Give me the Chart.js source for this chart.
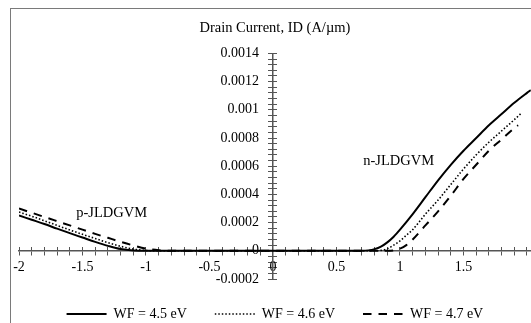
<!DOCTYPE html>
<html lang="en">
<head>
    <meta charset="UTF-8">
    <title>Drain Current vs Gate Voltage</title>
    <script src="https://cdn.jsdelivr.net/npm/chart.js"></script>
    <style>
        body { margin: 0; background: #fff; }
        .wrap { position: relative; width: 531px; height: 323px; overflow: hidden; }
        .frame { position: absolute; left: 10px; top: 8px; width: 600px; height: 400px; border: 1px solid #7a7a7a; pointer-events: none; }
    </style>
</head>
<body>
    <div class="wrap">
        <canvas id="idChart" width="531" height="323"></canvas>
        <div class="frame"></div>
    </div>

    <script>
        // gate voltage (V) and drain current (A/um) for each work function
        const vg45 = [-2, -1.9, -1.8, -1.7, -1.6, -1.5, -1.4, -1.3, -1.2, -1.1, -1.0, -0.5, 0, 0.5,
                      0.7, 0.75, 0.8, 0.85, 0.9, 0.95, 1.0, 1.1, 1.2, 1.3, 1.4, 1.5, 1.6, 1.7, 1.8, 1.9, 2.0, 2.03];
        const id45 = [0.00025, 0.00022, 0.00019, 0.000157, 0.000125, 0.000094, 0.000063, 0.000035, 0.000012, 0.000002, 0, 0, 0, 0,
                      0, 0.000003, 0.000012, 0.00003, 0.00006, 0.0001, 0.00015, 0.00026, 0.00038, 0.0005, 0.00061, 0.00071, 0.0008, 0.00089, 0.00097, 0.00105, 0.00112, 0.00114];

        const vg46 = [-2, -1.9, -1.8, -1.7, -1.6, -1.5, -1.4, -1.3, -1.2, -1.1, -1.0, -0.9, -0.5, 0, 0.5,
                      0.8, 0.85, 0.9, 0.95, 1.0, 1.05, 1.1, 1.2, 1.3, 1.4, 1.5, 1.6, 1.7, 1.8, 1.9, 1.96];
        const id46 = [0.000275, 0.000245, 0.000213, 0.00018, 0.000148, 0.000117, 0.000087, 0.000058, 0.000032, 0.000012, 0.000002, 0, 0, 0, 0,
                      0, 0.000003, 0.000015, 0.00004, 0.00007, 0.00011, 0.00015, 0.00026, 0.00036, 0.00047, 0.00058, 0.00068, 0.00077, 0.00085, 0.00093, 0.00098];

        const vg47 = [-2, -1.9, -1.8, -1.7, -1.6, -1.5, -1.4, -1.3, -1.2, -1.1, -1.0, -0.9, -0.8, -0.5, 0, 0.5,
                      0.9, 0.95, 1.0, 1.05, 1.1, 1.2, 1.3, 1.4, 1.5, 1.6, 1.7, 1.8, 1.9, 1.93];
        const id47 = [0.0003, 0.00027, 0.00024, 0.00021, 0.00018, 0.00015, 0.00012, 0.000092, 0.000064, 0.000038, 0.000016, 0.000004, 0, 0, 0, 0,
                      0, 0.000003, 0.000015, 0.00004, 0.00008, 0.00018, 0.00028, 0.00039, 0.00051, 0.00061, 0.00071, 0.00079, 0.00087, 0.00089];

        const seriesNames = ['WF = 4.5 eV', 'WF = 4.6 eV', 'WF = 4.7 eV'];

        const xLabels = [-2, -1.5, -1, -0.5, 0, 0.5, 1, 1.5];
        const yLabels = [-0.0002, 0, 0.0002, 0.0004, 0.0006, 0.0008, 0.001, 0.0012, 0.0014];

        const regionNames = ['p-JLDGVM', 'n-JLDGVM'];
        const regionX = [-1.27, 0.99];
        const regionY = [0.00027, 0.000634];

        function pairs(xs, ys) {
            return xs.map((v, i) => ({ x: v, y: ys[i] }));
        }

        // minor tick positions (every 0.1 V and every 0.00004 A/um)
        const xTicks = [];
        for (let i = -20; i <= 20; i++) xTicks.push(i / 10);
        const yTicks = [];
        for (let i = -5; i <= 35; i++) yTicks.push(i * 0.00004);

        // y labels sit right-aligned on the axis itself, so pad them with an em space
        const labelFor = (list, pad) => (value) => {
            const hit = list.find(v => Math.abs(v - value) < 1e-9);
            return hit === undefined ? '' : String(hit) + pad;
        };

        const serif = '"Liberation Serif", "Times New Roman", serif';
        Chart.defaults.font.family = serif;
        Chart.defaults.font.size = 14;
        Chart.defaults.color = '#000';

        const axisColor = '#555';

        const regionLabelPlugin = {
            id: 'regionLabels',
            afterDatasetsDraw(chart) {
                const { ctx, scales } = chart;
                ctx.save();
                ctx.font = '14.5px ' + serif;
                ctx.fillStyle = '#000';
                ctx.textAlign = 'center';
                ctx.textBaseline = 'middle';
                regionNames.forEach((t, i) => {
                    ctx.fillText(t, scales.x.getPixelForValue(regionX[i]), scales.y.getPixelForValue(regionY[i]));
                });
                ctx.restore();
            }
        };

        function tickAxis(axis, len, showLabels) {
            const isX = axis === 'x';
            return {
                type: 'linear',
                position: isX ? { y: 0 } : { x: 0 },
                min: isX ? -2 : -0.0002,
                max: isX ? 2.03 : 0.0014,
                afterBuildTicks: (scale) => {
                    scale.ticks = (isX ? xTicks : yTicks).map(v => ({ value: v }));
                },
                grid: {
                    drawOnChartArea: false,
                    drawTicks: true,
                    tickLength: len,
                    tickColor: axisColor,
                    tickWidth: 1
                },
                border: { display: showLabels, color: axisColor, width: 1.5 },
                ticks: {
                    display: showLabels,
                    autoSkip: false,
                    maxRotation: 0,
                    minRotation: 0,
                    padding: isX ? 4 : 10,
                    font: { size: 14 },
                    callback: labelFor(isX ? xLabels : yLabels, isX ? '' : '\u2003')
                }
            };
        }

        const ctx = document.getElementById('idChart').getContext('2d');
        const idChart = new Chart(ctx, {
            type: 'line',
            data: {
                datasets: [{
                    label: seriesNames[0],
                    data: pairs(vg45, id45),
                    borderColor: '#000',
                    borderWidth: 2
                }, {
                    label: seriesNames[1],
                    data: pairs(vg46, id46),
                    borderColor: '#000',
                    borderWidth: 1.6,
                    borderDash: [1.5, 2]
                }, {
                    label: seriesNames[2],
                    data: pairs(vg47, id47),
                    borderColor: '#000',
                    borderWidth: 2,
                    borderDash: [8.5, 7]
                }]
            },
            options: {
                responsive: false,
                animation: false,
                elements: {
                    point: { radius: 0 },
                    line: { cubicInterpolationMode: 'monotone', fill: false }
                },
                layout: { padding: { left: 19, right: 0, top: 0, bottom: -8 } },
                scales: {
                    x: tickAxis('x', 4, true),
                    x2: tickAxis('x', -4, false),
                    y: tickAxis('y', 4, true),
                    y2: tickAxis('y', -4, false)
                },
                plugins: {
                    title: {
                        display: true,
                        text: 'Drain Current, ID (A/\u00b5m)',
                        fullSize: false,
                        color: '#000',
                        font: { size: 14.5, weight: 'normal' },
                        padding: { top: 19, bottom: 17 }
                    },
                    legend: {
                        position: 'bottom',
                        fullSize: false,
                        labels: {
                            usePointStyle: true,
                            pointStyle: 'line',
                            pointStyleWidth: 40,
                            padding: 28,
                            color: '#000',
                            font: { size: 14 },
                            generateLabels: (chart) => {
                                const items = Chart.defaults.plugins.legend.labels.generateLabels(chart);
                                return items.map((item, i) => {
                                    const ds = chart.data.datasets[i];
                                    return Object.assign(item, {
                                        lineDash: ds.borderDash || [],
                                        lineWidth: ds.borderWidth,
                                        strokeStyle: ds.borderColor
                                    });
                                });
                            }
                        }
                    },
                    tooltip: { enabled: false }
                }
            },
            plugins: [regionLabelPlugin]
        });
    </script>
</body>
</html>
